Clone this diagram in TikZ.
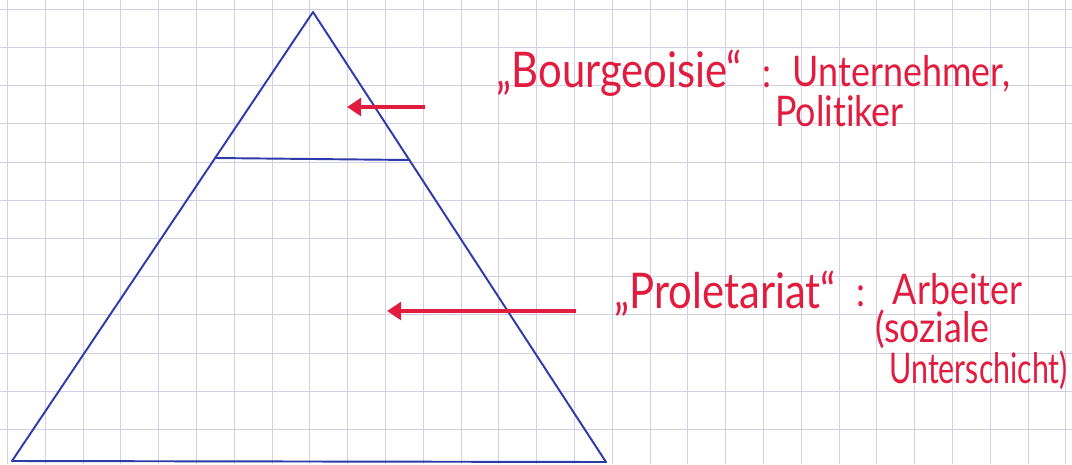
\documentclass[tikz,border=0pt]{standalone}
\usepackage{fontspec}
\setmainfont{Lato}[FakeStretch=0.85, Ligatures=NoCommon]
\newfontfamily\narrowhand{Lato}[FakeStretch=0.72, Ligatures=NoCommon]
\usetikzlibrary{arrows.meta}

\definecolor{penblue}{RGB}{45,58,170}
\definecolor{penred}{RGB}{225,28,62}
\definecolor{gridblue}{RGB}{208,208,230}

\begin{document}
\begin{tikzpicture}[
    x=0.02cm, y=-0.02cm,
    every node/.style={font=\fontsize{24}{21.5}\selectfont, text=penred, inner sep=0pt, anchor=base west},
    term/.style={font=\fontsize{28}{32}\selectfont},
    gridline/.style={gridblue, line width=0.6pt},
    pen/.style={penblue, line width=1.1pt, line join=round},
    pointer/.style={penred, line width=2.2pt, -{Triangle[length=8pt, width=10pt]}}
]

\useasboundingbox (0,0) rectangle (1072,464);
\fill[white] (0,0) rectangle (1072,464);

% =========================================================
% Squared paper
% =========================================================

\foreach \gx in {0,...,28}
    \draw[gridline] (7.5+37.8*\gx,0) -- (7.5+37.8*\gx,464);
\foreach \gy in {0,...,11}
    \draw[gridline] (0,9.3+38.2*\gy) -- (1072,9.3+38.2*\gy);


% =========================================================
% Pyramid
% =========================================================

\coordinate (apex) at (313,12);
\coordinate (baseL) at (12,461);
\coordinate (baseR) at (606,462);
\coordinate (layerL) at (215,158);
\coordinate (layerR) at (410,160);

\draw[pen] (apex) -- (baseL) -- (baseR) -- cycle;
\draw[pen] (layerL) -- (layerR);


% =========================================================
% Bourgeoisie
% =========================================================

\node[term] (bourg) at (496,87) {„Bourgeoisie“};
\node (bcolon) at (762,87) {:};
% base anchor sits on the last line
\node[align=left, font=\fontsize{24}{22.5}\selectfont] (untern) at (775,126)
    {\hspace*{10pt}Unternehmer,\\Politiker};

\coordinate (bstart) at (425,107);
\coordinate (bend) at (347,107);
\draw[pointer] (bstart) -- (bend);


% =========================================================
% Proletariat
% =========================================================

\node[term] (prol) at (614,308) {„Proletariat“};
\node (pcolon) at (856,306) {:};
\node[align=left] (arb) at (875,383)
    {\hspace*{10pt}Arbeiter\\(soziale\\\hspace*{8pt}{\narrowhand Unterschicht)}};

\coordinate (pstart) at (576,311);
\coordinate (pend) at (387,311);
\draw[pointer] (pstart) -- (pend);

\end{tikzpicture}
\end{document}
